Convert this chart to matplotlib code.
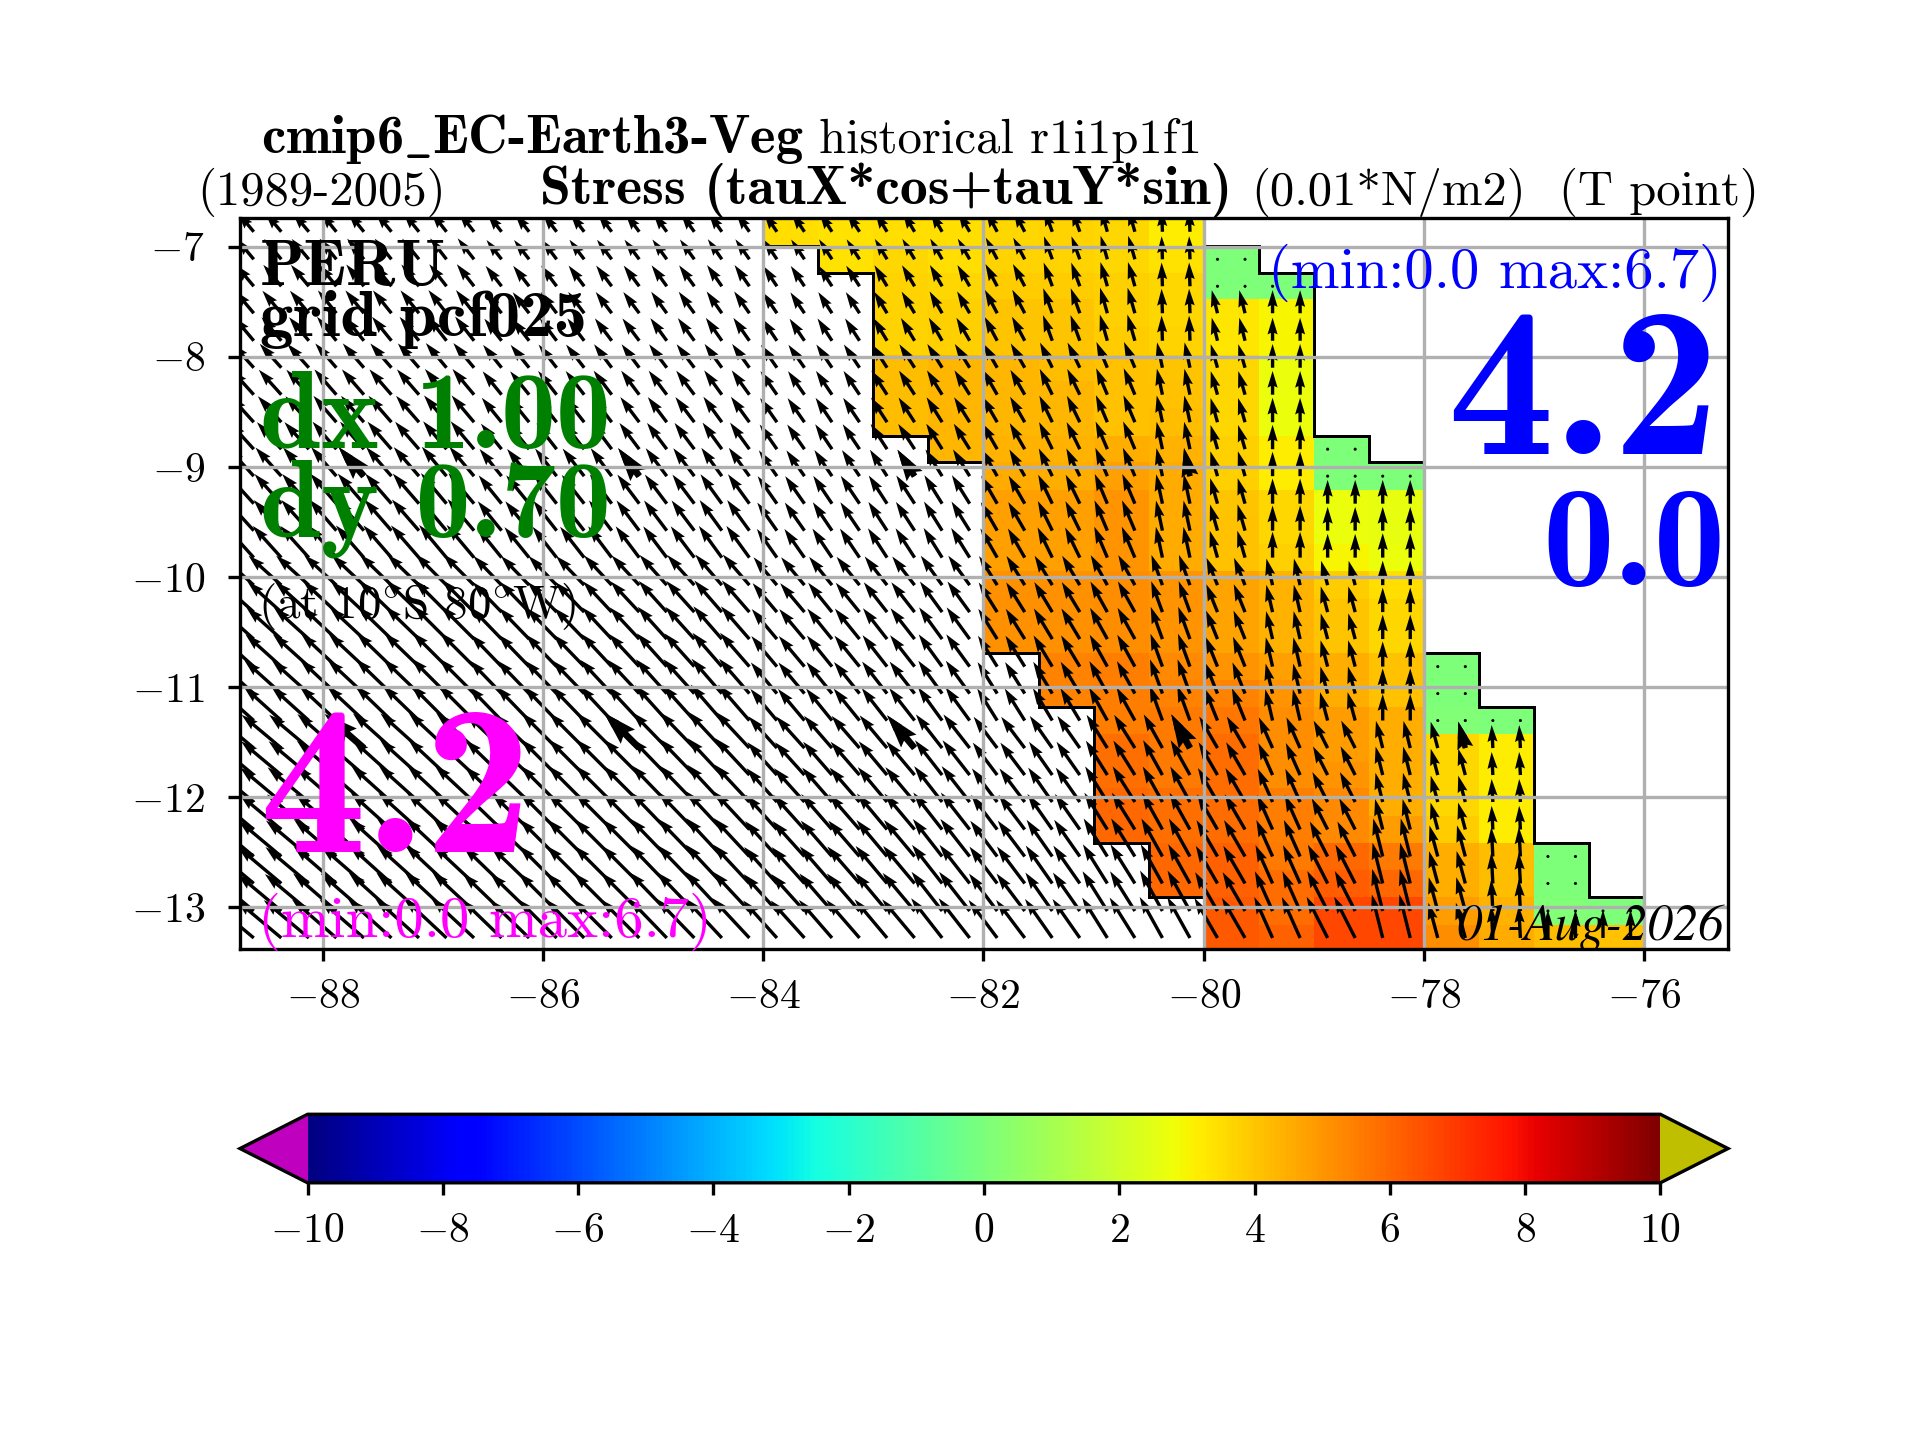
import numpy as np
import matplotlib
matplotlib.use("Agg")
import matplotlib.pyplot as plt

plt.rcParams['font.family'] = ['cmr10', 'DejaVu Serif']
plt.rcParams['mathtext.fontset'] = 'cm'
plt.rcParams['axes.formatter.use_mathtext'] = True
plt.rcParams['font.size'] = 12.5
plt.rcParams['xtick.major.pad'] = 5.5
plt.rcParams['ytick.major.pad'] = 7
plt.rcParams['axes.linewidth'] = 1.0
plt.rcParams['grid.linewidth'] = 1.0
plt.rcParams['xtick.major.width'] = 1.0
plt.rcParams['ytick.major.width'] = 1.0

n = np.nan

lon_edges = [-89.0, -88.5, -88.0, -87.5, -87.0, -86.5, -86.0, -85.5, -85.0, -84.5, -84.0, -83.5, -83.0, -82.5,
             -82.0, -81.5, -81.0, -80.5, -80.0, -79.5, -79.0, -78.5, -78.0, -77.5, -77.0, -76.5, -76.0]
lat_edges = [-6.74, -6.99, -7.24, -7.48, -7.73, -7.98, -8.22, -8.47, -8.72, -8.96, -9.21, -9.46, -9.70, -9.95,
             -10.20, -10.44, -10.69, -10.94, -11.18, -11.43, -11.68, -11.92, -12.17, -12.42, -12.66, -12.91,
             -13.16, -13.40]
xticks = [-88, -86, -84, -82, -80, -78, -76]
yticks = [-13, -12, -11, -10, -9, -8, -7]
cbar_ticks = [-10, -8, -6, -4, -2, 0, 2, 4, 6, 8, 10]

# along shore stress, only the coastal band from -84 to -76 has colour
stress = [
    [3.5, 3.4, 3.5, 3.5, 3.6, 3.7, 3.6, 3.2, n, n, n, n, n, n, n, n],
    [n, 3.4, 3.6, 3.5, 3.7, 3.7, 3.6, 3.4, 0, n, n, n, n, n, n, n],
    [n, n, 3.7, 3.6, 3.9, 3.9, 3.8, 3.6, 0, 0, n, n, n, n, n, n],
    [n, n, 3.7, 3.8, 4.0, 4.0, 3.8, 3.6, 3.3, 3.0, n, n, n, n, n, n],
    [n, n, 3.7, 3.8, 4.0, 4.0, 3.9, 3.7, 3.3, 3.0, n, n, n, n, n, n],
    [n, n, 4.2, 4.3, 4.3, 4.2, 4.1, 4.0, 3.6, 2.7, n, n, n, n, n, n],
    [n, n, 4.2, 4.3, 4.3, 4.3, 4.1, 4.1, 3.6, 2.7, n, n, n, n, n, n],
    [n, n, 4.2, 4.3, 4.3, 4.3, 4.1, 4.2, 3.6, 2.7, n, n, n, n, n, n],
    [n, n, n, 4.3, 4.4, 4.4, 4.5, 4.4, 3.8, 3.2, 0, n, n, n, n, n],
    [n, n, n, n, 4.6, 4.5, 4.8, 4.6, 3.8, 3.2, 0, 0, n, n, n, n],
    [n, n, n, n, 4.8, 4.8, 5.0, 4.6, 4.0, 3.6, 2.7, 2.6, n, n, n, n],
    [n, n, n, n, 4.8, 4.8, 5.0, 4.6, 4.1, 3.6, 2.7, 2.6, n, n, n, n],
    [n, n, n, n, 4.8, 4.8, 5.0, 4.6, 4.1, 3.8, 3.0, 2.7, n, n, n, n],
    [n, n, n, n, 5.1, 5.1, 5.2, 5.0, 4.7, 4.4, 3.9, 3.5, n, n, n, n],
    [n, n, n, n, 5.1, 5.1, 5.2, 5.0, 4.7, 4.4, 4.0, 3.6, n, n, n, n],
    [n, n, n, n, 5.1, 5.1, 5.2, 5.0, 4.7, 4.4, 4.0, 3.6, n, n, n, n],
    [n, n, n, n, n, 5.4, 5.5, 5.3, 5.0, 4.8, 4.5, 4.1, 0, n, n, n],
    [n, n, n, n, n, 5.4, 5.5, 5.4, 5.4, 5.0, 4.5, 4.1, 0, n, n, n],
    [n, n, n, n, n, n, 5.5, 5.6, 5.7, 5.2, 4.9, 4.5, 0.1, 0, n, n],
    [n, n, n, n, n, n, 5.8, 5.6, 5.9, 5.2, 4.9, 4.5, 3.6, 3.2, n, n],
    [n, n, n, n, n, n, 5.8, 5.6, 5.9, 5.2, 5.0, 4.5, 3.6, 3.2, n, n],
    [n, n, n, n, n, n, 6.0, 5.8, 5.9, 5.5, 5.3, 4.5, 3.6, 3.2, n, n],
    [n, n, n, n, n, n, 6.0, 5.8, 5.9, 5.5, 5.3, 4.9, 3.9, 3.2, n, n],
    [n, n, n, n, n, n, n, 6.0, 6.1, 5.6, 6.0, 5.6, 4.5, 4.2, 0, n],
    [n, n, n, n, n, n, n, 6.0, 6.1, 5.9, 6.2, 6.0, 4.5, 4.2, 0, n],
    [n, n, n, n, n, n, n, n, 6.3, 5.9, 6.7, 6.7, 4.9, 4.4, 0.1, 0],
    [n, n, n, n, n, n, n, n, 6.3, 6.1, 6.7, 6.7, 5.2, 4.6, 4.2, 4.1],
]

# vector length by row (top to bottom), for groups of half degree columns
speed_far = [3.6, 3.8, 4.0, 4.2, 4.4, 4.6, 4.8, 5.0, 5.2, 5.5, 5.7, 5.9, 6.1, 6.3,
             6.5, 6.7, 6.9, 7.1, 7.2, 7.4, 7.5, 7.7, 7.8, 8.0, 8.1, 8.2, 8.4]
speed_mid = [3.3, 3.5, 3.7, 3.8, 4.0, 4.2, 4.3, 4.5, 4.7, 5.0, 5.2, 5.4, 5.6, 5.8,
             6.0, 6.2, 6.4, 6.6, 6.8, 7.1, 7.2, 7.3, 7.4, 7.5, 7.6, 7.7, 7.8]
speed_near = [3.3, 3.4, 3.5, 3.6, 3.8, 4.0, 4.1, 4.2, 4.3, 4.5, 4.8, 4.9, 5.0, 5.2,
              5.4, 5.6, 5.7, 5.8, 5.9, 6.1, 6.3, 6.5, 6.7, 6.8, 7.0, 7.1, 7.2]
speed_shore = [3.4, 3.5, 3.6, 3.8, 3.9, 4.0, 4.1, 4.2, 4.3, 4.4, 4.6, 4.7, 4.8, 4.9,
               5.0, 5.1, 5.2, 5.3, 5.4, 5.6, 5.8, 6.0, 6.2, 6.4, 6.6, 6.7, 6.8]
speed_80w5 = [3.2, 3.3, 3.4, 3.5, 3.6, 3.7, 3.8, 3.9, 4.0, 4.1, 4.3, 4.4, 4.5, 4.6,
              4.7, 4.9, 5.0, 5.2, 5.3, 5.5, 5.7, 5.8, 6.0, 6.2, 6.4, 6.6, 6.7]
speed_80w = [n, 0, 0, 3.4, 3.4, 3.5, 3.5, 3.6, 3.6, 3.7, 3.8, 3.9, 4.0, 4.2,
             4.3, 4.4, 4.6, 4.8, 5.0, 5.2, 5.4, 5.6, 5.8, 6.0, 6.2, 6.4, 6.6]
speed_79w5 = [n, n, 0, 3.3, 3.3, 3.4, 3.4, 3.5, 3.5, 3.5, 3.6, 3.6, 3.7, 3.9,
              4.0, 4.1, 4.3, 4.4, 4.6, 4.8, 5.0, 5.2, 5.4, 5.7, 6.0, 6.2, 6.4]
speed_79w = [n, n, n, n, n, n, n, n, 0, 0, 3.4, 3.4, 3.4, 3.6,
             3.8, 3.8, 3.9, 4.0, 4.2, 4.4, 4.6, 4.8, 5.0, 5.6, 6.2, 6.4, 6.6]
speed_78w5 = [n, n, n, n, n, n, n, n, n, 0, 3.4, 3.4, 3.5, 3.5,
              3.5, 3.5, 3.6, 3.6, 3.8, 4.0, 4.2, 4.3, 4.5, 5.6, 6.0, 6.2, 6.4]
speed_78w = [n, n, n, n, n, n, n, n, n, n, n, n, n, n,
             n, n, 0, 0, 0, 3.9, 3.9, 3.9, 4.0, 4.6, 4.8, 5.0, 5.2]
speed_77w5 = [n, n, n, n, n, n, n, n, n, n, n, n, n, n,
              n, n, n, n, 0, 3.3, 3.3, 3.3, 3.4, 4.2, 4.4, 4.5, 4.6]
speed_77w = [n, n, n, n, n, n, n, n, n, n, n, n, n, n,
             n, n, n, n, n, n, n, n, n, 0, 0, 0, 4.0]
speed_76w5 = [n, n, n, n, n, n, n, n, n, n, n, n, n, n,
              n, n, n, n, n, n, n, n, n, n, n, 0, 4.0]
speed_groups = [speed_far] * 5 + [speed_mid] * 5 + [speed_near] * 4 + [speed_shore] * 3 + [
    speed_80w5, speed_80w, speed_79w5, speed_79w, speed_78w5, speed_78w, speed_77w5, speed_77w, speed_76w5]

# direction of the vectors (degrees on screen) per column, for four bands of rows
angle_rows = [0, 5, 13, 19]
angle_top = [130, 130, 129, 129, 128, 128, 127, 127, 126, 125, 124, 123, 121,
             120, 118, 110, 106, 92, 104, 90, 90, 90, 90, 90, 90, 90]
angle_upper = [132, 132, 131, 131, 130, 129, 128, 127, 127, 126, 125, 124, 123,
               122, 120, 116, 113, 102, 106, 90, 90, 90, 90, 90, 90, 90]
angle_lower = [138, 138, 137, 136, 135, 134, 134, 133, 132, 131, 130, 129, 128,
               126, 122, 121, 119, 110, 112, 103, 105, 90, 90, 90, 90, 90]
angle_bottom = [140, 140, 139, 138, 137, 136, 135, 135, 134, 133, 132, 131, 130,
                128, 127, 125, 122, 119, 120, 114, 117, 104, 105, 93, 90, 90]

# every tenth vector is drawn thicker
thick_rows = [9, 19]
thick_cols = [5, 15, 25, 35, 45]


def put(x, y, txt, **kw):
    # x,y in pixels of a 1568x1176 view of the figure
    return fig.text(x / 1568, 1 - y / 1176, txt, va='baseline', **kw)


fig = plt.figure(figsize=(8, 6), dpi=240)
ax = fig.add_axes([0.125, 0.341, 0.775, 0.5076])

cmap = plt.get_cmap('jet').copy()
cmap.set_under((0.75, 0, 0.75))
cmap.set_over((0.75, 0.75, 0))

data = np.ma.masked_invalid(np.array(stress, dtype=float))
mesh = ax.pcolormesh(lon_edges[10:], lat_edges, data, cmap=cmap, vmin=-10, vmax=10, zorder=1)

# coast outline, cell by cell
has = ~data.mask
for i in range(has.shape[0]):
    for j in range(has.shape[1]):
        if not has[i, j]:
            continue
        x0, x1 = lon_edges[10 + j], lon_edges[11 + j]
        y0, y1 = lat_edges[i], lat_edges[i + 1]
        if i > 0 and not has[i - 1, j]:
            ax.plot([x0, x1], [y0, y0], 'k', lw=0.9, zorder=1.2, solid_capstyle='projecting')
        if i < has.shape[0] - 1 and not has[i + 1, j]:
            ax.plot([x0, x1], [y1, y1], 'k', lw=0.9, zorder=1.2, solid_capstyle='projecting')
        if j > 0 and not has[i, j - 1]:
            ax.plot([x0, x0], [y0, y1], 'k', lw=0.9, zorder=1.2, solid_capstyle='projecting')
        if j < has.shape[1] - 1 and not has[i, j + 1]:
            ax.plot([x1, x1], [y0, y1], 'k', lw=0.9, zorder=1.2, solid_capstyle='projecting')
        if j == has.shape[1] - 1:
            ax.plot([x1, x1], [y0, y1], 'k', lw=0.9, zorder=1.2)

# vectors: two per coloured cell in x, tail in the middle of the row
lons = np.array(lon_edges[:-1])
lats = (np.array(lat_edges[:-1]) + np.array(lat_edges[1:])) / 2
xq = np.ravel(np.column_stack([lons + 0.125, lons + 0.375]))
spd = np.repeat(np.array(speed_groups, dtype=float).T, 2, axis=1)
bands = [angle_top, angle_upper, angle_lower, angle_bottom]
ang = np.zeros(spd.shape)
for i in range(spd.shape[0]):
    b = np.searchsorted(angle_rows, i, side='right') - 1
    ang[i] = np.repeat(bands[b], 2)
u = np.ma.masked_invalid(spd * np.cos(np.radians(ang)))
v = np.ma.masked_invalid(spd * np.sin(np.radians(ang)))
X, Y = np.meshgrid(xq, lats)
ax.quiver(X, Y, u, v, angles='uv', scale=34.3, scale_units='inches', units='inches', width=0.014, zorder=1.1)

tx, ty, tu, tv = [], [], [], []
for i in thick_rows:
    for j in thick_cols:
        if np.ma.is_masked(u[i, j]):
            continue
        tx.append(X[i, j])
        ty.append(Y[i, j])
        tu.append(u[i, j])
        tv.append(v[i, j])
ax.quiver(tx, ty, tu, tv, angles='uv', scale=34.3, scale_units='inches', units='inches', width=0.028, zorder=1.1)

ax.set_xlim(-88.75, -75.24)
ax.set_ylim(-13.38, -6.74)
ax.set_xticks(xticks)
ax.set_yticks(yticks)
ax.grid(True)

bold = ['cmb10', 'DejaVu Serif']

# titles
put(213, 125, r'cmip6$\_$EC-Earth3-Veg', family=bold, fontsize=16.4)
put(669, 125, 'historical r1i1p1f1', fontsize=14.6)
put(161, 167, '(1989-2005)', fontsize=14.6)
put(441, 167, 'Stress (tauX*cos+tauY*sin)', family=bold, fontsize=16.7)
put(1022, 167, '(0.01*N/m2)', fontsize=14.6)
put(1273, 167, '(T point)', fontsize=14.6)

# labels inside the map
put(212, 233, 'PERU', family=bold, fontsize=19.5)
put(212, 274, 'grid pcf025', family=bold, fontsize=20)
put(212, 366, 'dx 1.00', family=bold, fontsize=33, color='green')
put(212, 438, 'dy 0.70', family=bold, fontsize=33, color='green')
put(211, 505, r'(at 10$^{\circ}$S 80$^{\circ}$W)', fontsize=14.1)
put(212, 696, '4.2', family=bold, fontsize=64, color='magenta')
put(211, 765, '(min:0.0 max:6.7)', fontsize=17.6, color='magenta')
put(1406, 235, '(min:0.0 max:6.7)', fontsize=17.6, color='blue', ha='right')
put(1404, 371, '4.2', family=bold, fontsize=64, color='blue', ha='right')
put(1409, 478, '0.0', family=bold, fontsize=43, color='blue', ha='right')
put(1408, 768, '01-Aug-2026', family='STIXGeneral', style='italic', fontsize=15.2, ha='right')

cax = fig.add_axes([0.125, 0.1786, 0.775, 0.0476])
cb = fig.colorbar(mesh, cax=cax, orientation='horizontal', extend='both')
cb.set_ticks(cbar_ticks)

fig.savefig('out.png', dpi=240)
